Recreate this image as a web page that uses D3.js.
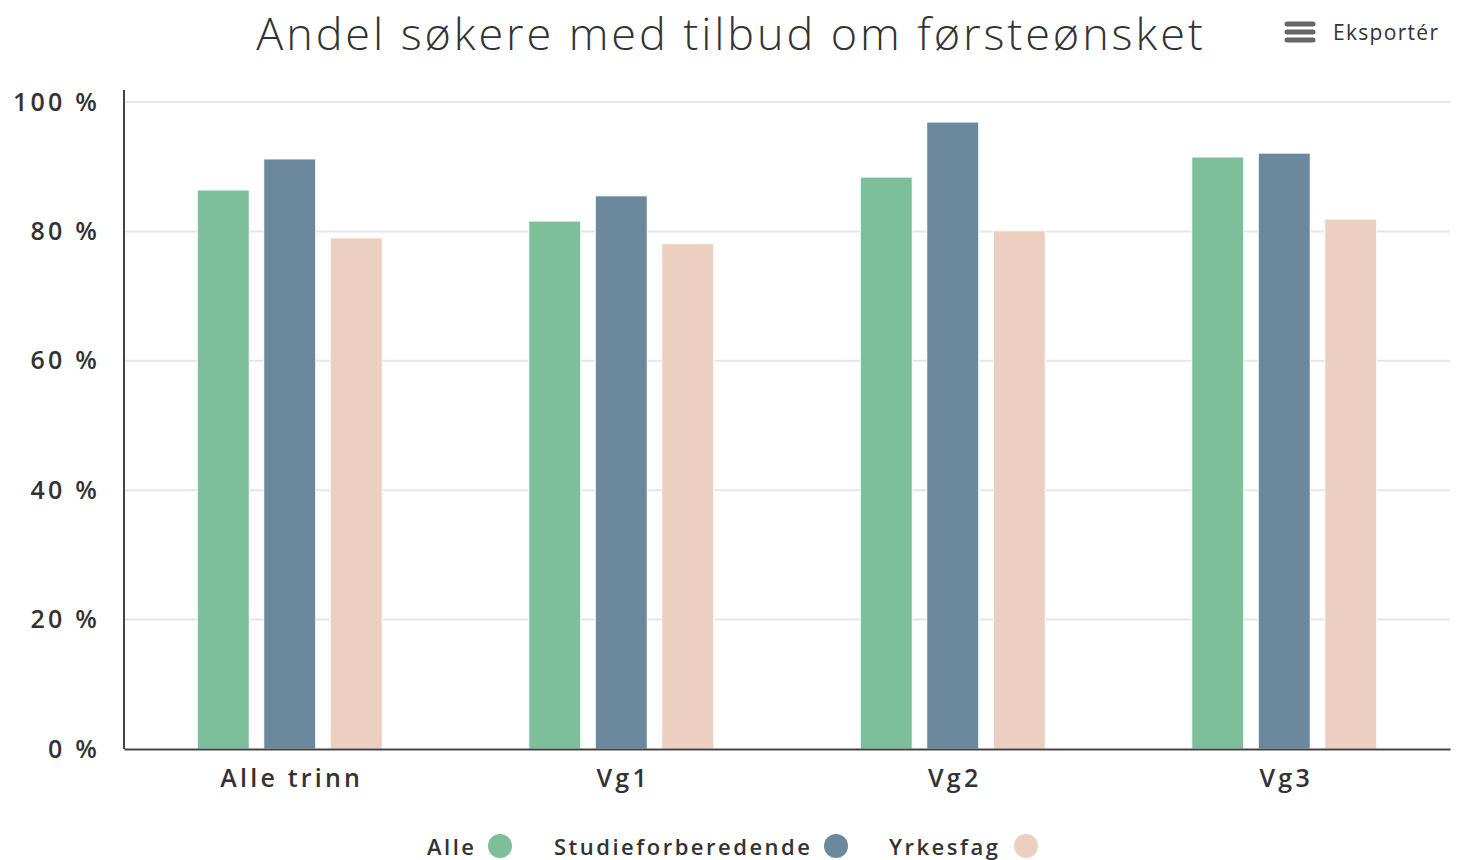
<!DOCTYPE html>
<html>
<head>
<meta charset="utf-8">
<script src="https://cdn.jsdelivr.net/npm/d3@7"></script>
<style>
  body { margin: 0; background: #fff; }
  svg text { font-family: "Open Sans", "Lato", sans-serif; fill: #333; }
</style>
</head>
<body>
<div id="chart"></div>
<script>
const categories = ['Alle trinn', 'Vg1', 'Vg2', 'Vg3'];
const seriesNames = ['Alle', 'Studieforberedende', 'Yrkesfag'];
const alleValues = [86.4, 81.6, 88.4, 91.5];
const studieValues = [91.2, 85.5, 96.9, 92.1];
const yrkesValues = [79.0, 78.1, 80.1, 81.9];
const yTicks = [0, 20, 40, 60, 80, 100];
const colors = ['#7dbf9b', '#6c889d', '#eccfc1'];

const seriesValues = [alleValues, studieValues, yrkesValues];

const width = 1458, height = 860;
const margin = {top: 102, right: 8, bottom: 111, left: 124};

const svg = d3.select('#chart').append('svg')
    .attr('width', width)
    .attr('height', height);

// title
svg.append('text')
    .attr('x', 731)
    .attr('y', 49.5)
    .attr('text-anchor', 'middle')
    .style('font-size', '45px')
    .style('font-weight', 300)
    .style('letter-spacing', '2.9px')
    .text('Andel søkere med tilbud om førsteønsket');

// export button
const exp = svg.append('g');
[24, 32, 40].forEach(y => {
    exp.append('line')
        .attr('x1', 1287).attr('x2', 1313)
        .attr('y1', y).attr('y2', y)
        .attr('stroke', '#666')
        .attr('stroke-width', 5)
        .attr('stroke-linecap', 'round');
});
exp.append('text')
    .attr('x', 1333)
    .attr('y', 40)
    .style('font-size', '21px')
    .style('letter-spacing', '1.3px')
    .text('Eksportér');

const chart = svg.append('g')
    .attr('transform', `translate(${margin.left},${margin.top})`);

const innerW = width - margin.left - margin.right;
const innerH = height - margin.top - margin.bottom;

const x0 = d3.scaleBand()
    .domain(categories)
    .range([0, innerW])
    .paddingInner(0.442)
    .paddingOuter(0.221);

const x1 = d3.scaleBand()
    .domain(seriesNames)
    .range([0, x0.bandwidth()])
    .paddingInner(0.218);

const y = d3.scaleLinear()
    .domain([0, 100])
    .range([innerH, 0]);

// gridlines
chart.append('g')
    .selectAll('line')
    .data(yTicks.filter(d => d > 0))
    .join('line')
    .attr('x1', 0).attr('x2', innerW)
    .attr('y1', d => y(d)).attr('y2', d => y(d))
    .attr('stroke', '#e6e6e6')
    .attr('stroke-width', 2);

// bars
const groups = chart.selectAll('.group')
    .data(categories)
    .join('g')
    .attr('class', 'group')
    .attr('transform', d => `translate(${x0(d)},0)`);

groups.selectAll('rect')
    .data((c, i) => seriesNames.map((s, j) => ({series: s, value: seriesValues[j][i], idx: j})))
    .join('rect')
    .attr('x', d => x1(d.series))
    .attr('width', x1.bandwidth())
    .attr('y', d => y(d.value))
    .attr('height', d => innerH - y(d.value))
    .attr('fill', d => colors[d.idx])
    .attr('stroke', '#fff')
    .attr('stroke-width', 1);

// y axis
const yAxis = d3.axisLeft(y)
    .tickValues(yTicks)
    .tickSize(0)
    .tickPadding(24)
    .tickFormat(d => d + ' %');

const yAxisG = chart.append('g').call(yAxis);
yAxisG.select('.domain').remove();
yAxisG.selectAll('text')
    .style('font-size', '25px')
    .style('font-weight', 600)
    .style('letter-spacing', '3.2px')
    .style('fill', '#333');

chart.append('line')
    .attr('x1', 0).attr('x2', 0)
    .attr('y1', -12).attr('y2', innerH)
    .attr('stroke', '#444')
    .attr('stroke-width', 2);

// x axis
const xAxis = d3.axisBottom(x0)
    .tickSize(0)
    .tickPadding(20);

const xAxisG = chart.append('g')
    .attr('transform', `translate(0,${innerH})`)
    .call(xAxis);
xAxisG.select('.domain')
    .attr('stroke', '#444')
    .attr('stroke-width', 2);
xAxisG.selectAll('text')
    .attr('dx', '2px')
    .style('font-size', '25px')
    .style('font-weight', 600)
    .style('letter-spacing', '3.2px')
    .style('fill', '#333');

// legend
const legendItems = [
    {name: 'Alle', x: 427, cx: 500},
    {name: 'Studieforberedende', x: 554, cx: 836},
    {name: 'Yrkesfag', x: 889, cx: 1026}
];
const legend = svg.append('g');
legendItems.forEach((d, i) => {
    legend.append('text')
        .attr('x', d.x)
        .attr('y', 855)
        .style('font-size', '22px')
        .style('font-weight', 600)
        .style('letter-spacing', '2.5px')
        .text(d.name);
    legend.append('circle')
        .attr('cx', d.cx)
        .attr('cy', 846)
        .attr('r', 12)
        .attr('fill', colors[i]);
});
</script>
</body>
</html>
